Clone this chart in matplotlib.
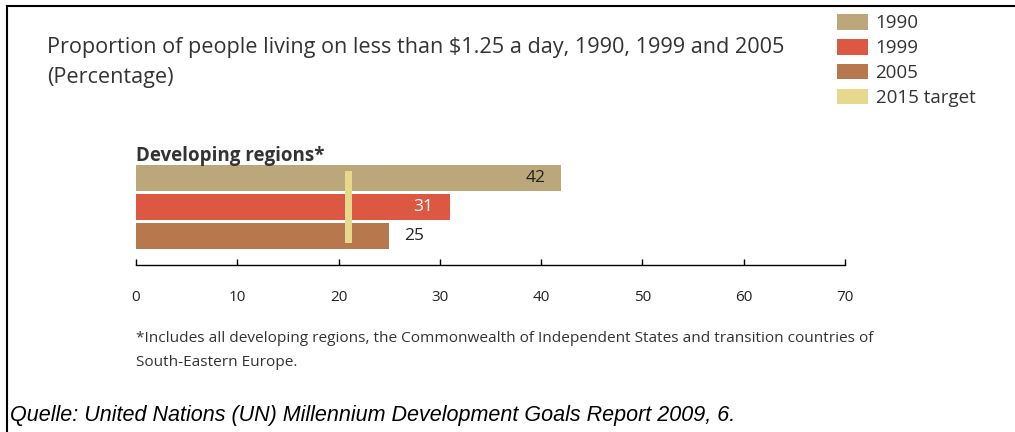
import matplotlib.pyplot as plt
from matplotlib.patches import Patch
from matplotlib.lines import Line2D

# Дані
years = ['1990', '1999', '2005']
values = [42, 31, 25]
target = 21
colors = ['#bca77a', '#dd5843', '#b8784d']
target_color = '#e6d98e'
ticks = [0, 10, 20, 30, 40, 50, 60, 70]

font = 'Open Sans'

fig = plt.figure(figsize=(10.15, 4.32), dpi=100)

# Рамка зверху та зліва
fig.add_artist(Line2D([7 / 1015, 1], [1 - 6 / 432, 1 - 6 / 432], color='black', lw=1.5))
fig.add_artist(Line2D([7 / 1015, 7 / 1015], [0, 1 - 6 / 432], color='black', lw=1.5))

ax = fig.add_axes([136 / 1015, 1 - 265 / 432, 709 / 1015, 105 / 432])

pos = [3, 2, 1]
ax.barh(pos, values, height=0.9, color=colors, zorder=2)
ax.bar(target, 2.48, bottom=0.76, width=0.7, color=target_color, zorder=3)

# Підписи значень
ax.text(values[0] - 1.6, pos[0], str(values[0]), ha='right', va='center',
        fontsize=12.5, color='#222222', family=font)
ax.text(values[1] - 1.7, pos[1], str(values[1]), ha='right', va='center',
        fontsize=12.5, color='white', family=font)
ax.text(values[2] + 1.5, pos[2], str(values[2]), ha='left', va='center',
        fontsize=12.5, color='#222222', family=font)

ax.set_xlim(0, 70)
ax.set_ylim(0, 3.62)
ax.set_xticks(ticks)
ax.set_yticks([])
for s in ['top', 'right', 'left']:
    ax.spines[s].set_visible(False)
ax.spines['bottom'].set_linewidth(1.0)
ax.tick_params(axis='x', direction='in', length=4, width=1.0, pad=18,
               labelsize=11, labelcolor='#222222')
for lbl in ax.get_xticklabels():
    lbl.set_family(font)

ax.text(0, 0.99, 'Developing regions*', transform=ax.transAxes, ha='left',
        va='baseline', fontsize=13.5, fontweight='bold', color='#333333', family=font)

# Заголовок
fig.text(47 / 1015, 1 - 47 / 432,
         'Proportion of people living on less than $1.25 a day, 1990, 1999 and 2005',
         ha='left', va='center', fontsize=15.6, color='#333333', family=font)
fig.text(47 / 1015, 1 - 77 / 432, '(Percentage)', ha='left', va='center',
         fontsize=15.6, color='#333333', family=font)

# Легенда
handles = [Patch(facecolor=c, edgecolor='none') for c in colors] + \
          [Patch(facecolor=target_color, edgecolor='none')]
labels = years + ['2015 target']
leg = fig.legend(handles, labels, loc='upper left', bbox_to_anchor=(824 / 1015, 1 - 1 / 432),
                 frameon=False, prop={'family': font, 'size': 13.5},
                 handlelength=1.65, handleheight=0.9, handletextpad=0.4,
                 labelspacing=0.35, borderpad=0.2)
for t in leg.get_texts():
    t.set_color('#333333')

# Примітка
fig.text(136 / 1015, 1 - 338 / 432,
         '*Includes all developing regions, the Commonwealth of Independent States and transition countries of',
         ha='left', va='center', fontsize=11.1, color='#333333', family=font)
fig.text(136 / 1015, 1 - 362 / 432, 'South-Eastern Europe.', ha='left', va='center',
         fontsize=11.1, color='#333333', family=font)

fig.text(10 / 1015, 1 - 416 / 432,
         'Quelle: United Nations (UN) Millennium Development Goals Report 2009, 6.',
         ha='left', va='center', fontsize=15.5, style='italic', color='black',
         family='Liberation Sans')

fig.savefig('out.png', dpi=100)
